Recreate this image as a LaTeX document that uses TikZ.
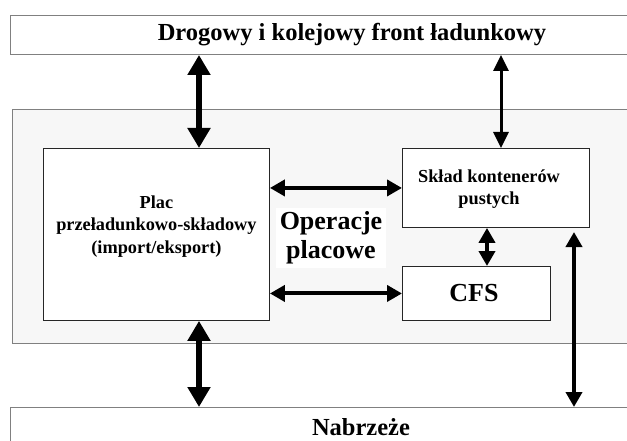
\documentclass[tikz,border=0pt]{standalone}
\usepackage{fontspec}
\setmainfont{Liberation Serif}
\usetikzlibrary{arrows.meta}
\tikzset{
  band/.style={rectangle, draw=gray, line width=1pt, fill=white, minimum width=640pt, anchor=north west},
  box/.style={rectangle, draw=black!85, line width=0.9pt, fill=white, anchor=north west},
  bigtext/.style={font=\fontsize{24.5}{29}\selectfont\bfseries, align=center, inner sep=1pt},
  smalltext/.style={font=\fontsize{18.3}{22.5}\selectfont\bfseries, align=center, inner sep=1pt},
  bigarrow/.style={line width=6pt, {Triangle[width=22pt,length=20pt]}-{Triangle[width=22pt,length=20pt]}},
  thinarrow/.style={line width=3pt, {Triangle[width=15pt,length=16pt]}-{Triangle[width=15pt,length=16pt]}},
  midarrow/.style={line width=4pt, {Triangle[width=16pt,length=15pt]}-{Triangle[width=16pt,length=15pt]}}
}
\begin{document}
\begin{tikzpicture}[x=1pt,y=-1pt]
\useasboundingbox (0,0) rectangle (627,441);
\clip (0,0) rectangle (627,441);
% pasy zewnetrzne
\node (front) [band, minimum height=39pt] at (10,15) {};
\node [bigtext] at (352,35) {Drogowy i kolejowy front ładunkowy};
\node (teren) [band, fill=gray!6, minimum height=234pt] at (12,109) {};
\node (nabrzeze) [band, minimum height=60pt] at (10,407) {};
\node [bigtext] at (361,427) {Nabrzeże};

% obiekty terminalu
\node (plac) [box, minimum width=226pt, minimum height=172pt] at (43,148) {};
\node [smalltext] at (plac.center) [yshift=8pt] {Plac\\przeładunkowo-składowy\\(import/eksport)};
\node (sklad) [box, minimum width=187pt, minimum height=79pt] at (402,148) {};
\node [smalltext] at (489,189) {Skład kontenerów\\pustych};
\node (cfs) [box, minimum width=148pt, minimum height=54pt] at (402,266) {};
\node [bigtext, font=\fontsize{26}{29}\selectfont\bfseries] at (474,293) {CFS};
\node (oper) [bigtext, font=\fontsize{26}{29}\selectfont\bfseries, fill=white, inner sep=4pt] at (331,238) {Operacje\\placowe};

% polaczenia
\coordinate (xl) at (199,0);
\coordinate (xr) at (501,0);
\coordinate (xs) at (487,0);
\coordinate (xq) at (574,232);
\draw [bigarrow] (front.south -| xl) -- (plac.north -| xl);
\draw [bigarrow] (plac.south -| xl) -- (nabrzeze.north -| xl);
\draw [thinarrow] (front.south -| xr) -- (sklad.north -| xr);
\draw [midarrow] (plac.east |- sklad.west) -- (sklad.west);
\draw [midarrow] (plac.east |- cfs.west) -- (cfs.west);
\draw [midarrow] (sklad.south -| xs) -- (cfs.north -| xs);
\draw [midarrow] (xq) -- (nabrzeze.north -| xq);
\end{tikzpicture}
\end{document}
